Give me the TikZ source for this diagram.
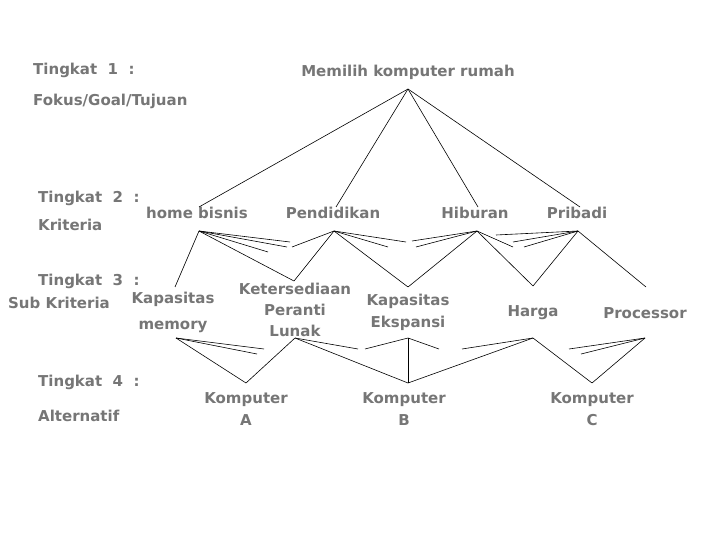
\documentclass[tikz,border=0pt]{standalone}
\usepackage{fontspec}
\setmainfont{DejaVu Sans}
\definecolor{txtgray}{HTML}{767676}
\begin{document}
\begin{tikzpicture}[x=1pt,y=-1pt,
  lbl/.style={text=txtgray,font=\bfseries\fontsize{15}{22}\selectfont,inner sep=0pt,align=center},
  side/.style={lbl,anchor=west,align=left},
  ln/.style={draw=black,line width=0.6pt}]
\useasboundingbox[fill=white] (0,0) rectangle (720,540);
% labels
\node[side] (t1) at (33,70) {Tingkat\ \ 1\ \ :};
\node[side] (fk) at (33,101) {Fokus/Goal/Tujuan};
\node[side] (t2) at (38,198) {Tingkat\ \ 2\ \ :};
\node[side] (kr) at (38,225) {Kriteria};
\node[side] (t3) at (38,281) {Tingkat\ \ 3\ \ :};
\node[side] (sk) at (8,303) {Sub Kriteria};
\node[side] (t4a) at (38,382) {Tingkat\ \ 4\ \ :};
\node[side] (t4b) at (38,416) {Alternatif};
\node[lbl] (goal) at (408,72) {Memilih komputer rumah};
\node[lbl] (hb) at (197,213) {home bisnis};
\node[lbl] (pd) at (333,213) {Pendidikan};
\node[lbl] (hi) at (475,213) {Hiburan};
\node[lbl] (pr) at (577,213) {Pribadi};
\node[lbl] (km) at (173,312) {Kapasitas\\[4pt]memory};
\node[lbl] (kt) at (295,310) {Ketersediaan\\[-1pt]Peranti\\[-1pt]Lunak};
\node[lbl] (ke) at (408,312) {Kapasitas\\Ekspansi};
\node[lbl] (hg) at (533,313) {Harga};
\node[lbl] (ps) at (645,313) {Processor};
\node[lbl] (ka) at (246,409) {Komputer\\A};
\node[lbl] (kb) at (404,409) {Komputer\\B};
\node[lbl] (kc) at (592,409) {Komputer\\C};
% ports
\coordinate (apex) at (408,89);
\coordinate (hbT) at (199,207); \coordinate (pdT) at (336,207);
\coordinate (hiT) at (478,207); \coordinate (prT) at (580,207);
\coordinate (hbB) at (199,231); \coordinate (pdB) at (334,231);
\coordinate (hiB) at (477,231); \coordinate (prB) at (578,231);
\coordinate (kmT) at (175,287); \coordinate (ktT) at (294,281);
\coordinate (keT) at (408,287); \coordinate (hgT) at (533,286);
\coordinate (psT) at (646,287);
\coordinate (kmB) at (176,338); \coordinate (plB) at (295,338);
\coordinate (keB) at (408,338); \coordinate (hgB) at (533,338);
\coordinate (psB) at (645,338);
\coordinate (kaT) at (246,383); \coordinate (kbT) at (408,383);
\coordinate (kcT) at (592,383);
% stub ends
\coordinate (s1) at (290,242); \coordinate (s2) at (287,247); \coordinate (s3) at (268,252);
\coordinate (s4) at (292,247); \coordinate (s5) at (406,242); \coordinate (s6) at (388,247);
\coordinate (s7) at (412,241); \coordinate (s8) at (416,247); \coordinate (s9) at (513,247);
\coordinate (s10) at (496,235); \coordinate (s11) at (513,242); \coordinate (s12) at (524,247);
\coordinate (s13) at (264,349); \coordinate (s14) at (257,354);
\coordinate (s15) at (358,349);
\coordinate (s16) at (365,349); \coordinate (s17) at (439,349);
\coordinate (s18) at (462,349);
\coordinate (s19) at (569,349); \coordinate (s20) at (581,354);
% level 1 -> 2
\draw[ln] (apex) -- (hbT); \draw[ln] (apex) -- (pdT);
\draw[ln] (apex) -- (hiT); \draw[ln] (apex) -- (prT);
% level 2 -> 3
\draw[ln] (hbB) -- (kmT); \draw[ln] (hbB) -- (ktT);
\draw[ln] (hbB) -- (s1); \draw[ln] (hbB) -- (s2); \draw[ln] (hbB) -- (s3);
\draw[ln] (pdB) -- (ktT); \draw[ln] (pdB) -- (keT);
\draw[ln] (pdB) -- (s4); \draw[ln] (pdB) -- (s5); \draw[ln] (pdB) -- (s6);
\draw[ln] (hiB) -- (keT); \draw[ln] (hiB) -- (hgT);
\draw[ln] (hiB) -- (s7); \draw[ln] (hiB) -- (s8); \draw[ln] (hiB) -- (s9);
\draw[ln] (prB) -- (hgT); \draw[ln] (prB) -- (psT);
\draw[ln] (prB) -- (s10); \draw[ln] (prB) -- (s11); \draw[ln] (prB) -- (s12);
% level 3 -> 4
\draw[ln] (kmB) -- (kaT); \draw[ln] (kmB) -- (s13); \draw[ln] (kmB) -- (s14);
\draw[ln] (plB) -- (kaT); \draw[ln] (plB) -- (kbT); \draw[ln] (plB) -- (s15);
\draw[ln] (keB) -- (kbT); \draw[ln] (keB) -- (s16); \draw[ln] (keB) -- (s17);
\draw[ln] (hgB) -- (kbT); \draw[ln] (hgB) -- (kcT); \draw[ln] (hgB) -- (s18);
\draw[ln] (psB) -- (kcT); \draw[ln] (psB) -- (s19); \draw[ln] (psB) -- (s20);
\end{tikzpicture}
\end{document}
